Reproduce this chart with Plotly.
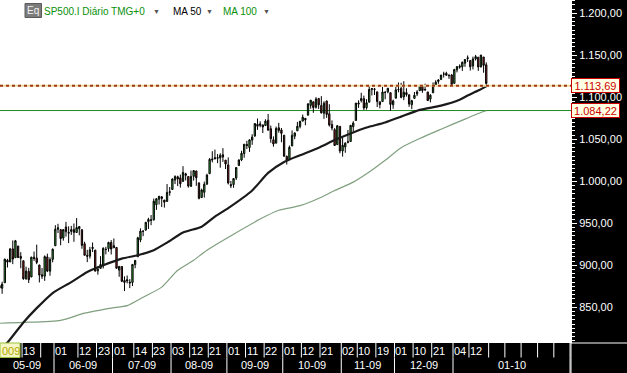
import plotly.graph_objects as go

# ---------------- data ----------------
dates = [
    "2009-04-30",
    "2009-05-01", "2009-05-04", "2009-05-05", "2009-05-06", "2009-05-07", "2009-05-08", "2009-05-11", "2009-05-12",
    "2009-05-13", "2009-05-14", "2009-05-15", "2009-05-18", "2009-05-19", "2009-05-20", "2009-05-21", "2009-05-22",
    "2009-05-26", "2009-05-27", "2009-05-28", "2009-05-29",
    "2009-06-01", "2009-06-02", "2009-06-03", "2009-06-04", "2009-06-05", "2009-06-08", "2009-06-09", "2009-06-10",
    "2009-06-11", "2009-06-12", "2009-06-15", "2009-06-16", "2009-06-17", "2009-06-18", "2009-06-19", "2009-06-22",
    "2009-06-23", "2009-06-24", "2009-06-25", "2009-06-26", "2009-06-29", "2009-06-30",
    "2009-07-01", "2009-07-02", "2009-07-06", "2009-07-07", "2009-07-08", "2009-07-09", "2009-07-10", "2009-07-13",
    "2009-07-14", "2009-07-15", "2009-07-16", "2009-07-17", "2009-07-20", "2009-07-21", "2009-07-22", "2009-07-23",
    "2009-07-24", "2009-07-27", "2009-07-28", "2009-07-29", "2009-07-30", "2009-07-31",
    "2009-08-03", "2009-08-04", "2009-08-05", "2009-08-06", "2009-08-07", "2009-08-10", "2009-08-11", "2009-08-12",
    "2009-08-13", "2009-08-14", "2009-08-17", "2009-08-18", "2009-08-19", "2009-08-20", "2009-08-21", "2009-08-24",
    "2009-08-25", "2009-08-26", "2009-08-27", "2009-08-28", "2009-08-31",
    "2009-09-01", "2009-09-02", "2009-09-03", "2009-09-04", "2009-09-08", "2009-09-09", "2009-09-10", "2009-09-11",
    "2009-09-14", "2009-09-15", "2009-09-16", "2009-09-17", "2009-09-18", "2009-09-21", "2009-09-22", "2009-09-23",
    "2009-09-24", "2009-09-25", "2009-09-28", "2009-09-29", "2009-09-30",
    "2009-10-01", "2009-10-02", "2009-10-05", "2009-10-06", "2009-10-07", "2009-10-08", "2009-10-09", "2009-10-12",
    "2009-10-13", "2009-10-14", "2009-10-15", "2009-10-16", "2009-10-19", "2009-10-20", "2009-10-21", "2009-10-22",
    "2009-10-23", "2009-10-26", "2009-10-27", "2009-10-28", "2009-10-29", "2009-10-30",
    "2009-11-02", "2009-11-03", "2009-11-04", "2009-11-05", "2009-11-06", "2009-11-09", "2009-11-10", "2009-11-11",
    "2009-11-12", "2009-11-13", "2009-11-16", "2009-11-17", "2009-11-18", "2009-11-19", "2009-11-20", "2009-11-23",
    "2009-11-24", "2009-11-25", "2009-11-27", "2009-11-30",
    "2009-12-01", "2009-12-02", "2009-12-03", "2009-12-04", "2009-12-07", "2009-12-08", "2009-12-09", "2009-12-10",
    "2009-12-11", "2009-12-14", "2009-12-15", "2009-12-16", "2009-12-17", "2009-12-18", "2009-12-21", "2009-12-22",
    "2009-12-23", "2009-12-24", "2009-12-28", "2009-12-29", "2009-12-30", "2009-12-31",
    "2010-01-04", "2010-01-05", "2010-01-06", "2010-01-07", "2010-01-08", "2010-01-11", "2010-01-12", "2010-01-13",
    "2010-01-14", "2010-01-15", "2010-01-19", "2010-01-20", "2010-01-21",
]

opens = [
    876.11,
    872.74, 879.21, 906.10, 903.95, 919.58, 909.03, 922.99, 910.52, 905.40, 884.24, 892.76, 886.07, 909.67, 908.62,
    900.42, 888.68, 887.00, 909.95, 892.96, 907.02,
    923.26, 942.87, 942.51, 932.49, 945.67, 938.12, 940.35, 942.73, 939.04, 943.44, 942.45, 925.60, 911.89, 910.86,
    919.96, 918.13, 893.46, 896.31, 899.45, 918.84, 919.86, 927.15,
    920.82, 921.24, 894.27, 898.60, 881.90, 881.28, 880.03, 879.57, 900.77, 910.15, 930.17, 940.56, 942.07, 951.97,
    953.40, 954.07, 972.16, 978.63, 981.48, 977.66, 976.01, 986.80,
    990.22, 1001.41, 1005.41, 1004.06, 999.83, 1008.89, 1005.77, 994.00, 1005.86, 1012.23, 998.18, 980.62, 986.88,
    996.41, 1009.06, 1026.59, 1026.63, 1027.35, 1027.81, 1031.62, 1025.21,
    1019.52, 996.07, 996.12, 1003.84, 1018.67, 1025.36, 1032.99, 1043.92, 1040.15, 1049.03, 1053.99, 1067.87,
    1066.60, 1067.14, 1066.35, 1072.69, 1062.56, 1049.48, 1045.38, 1063.69, 1061.02,
    1054.91, 1029.71, 1026.87, 1042.02, 1053.65, 1060.03, 1065.28, 1071.63, 1074.96, 1078.68, 1090.36, 1094.67,
    1088.22, 1098.64, 1090.36, 1080.96, 1095.62, 1080.36, 1067.54, 1061.51, 1043.69, 1065.41,
    1036.18, 1040.92, 1047.14, 1047.30, 1064.95, 1072.31, 1091.86, 1096.04, 1098.31, 1087.59, 1094.13, 1109.22,
    1109.44, 1106.44, 1094.66, 1094.86, 1105.83, 1106.49, 1105.47, 1091.07,
    1098.89, 1109.03, 1110.59, 1100.43, 1105.52, 1103.04, 1091.07, 1098.69, 1103.96, 1107.84, 1114.11, 1108.61,
    1106.36, 1097.86, 1105.31, 1114.51, 1118.84, 1121.08, 1127.53, 1128.55, 1125.53, 1126.60,
    1116.56, 1132.66, 1135.71, 1136.27, 1140.52, 1145.96, 1143.81, 1137.31, 1145.68, 1147.72, 1136.03, 1147.95,
    1138.68,
]

highs = [
    888.70,
    880.48, 907.85, 907.70, 920.28, 929.58, 930.17, 922.99, 915.57, 905.40, 898.36, 896.97, 910.00, 916.39, 924.60,
    900.42, 896.65, 911.76, 913.84, 909.45, 920.02,
    947.77, 949.38, 942.51, 942.47, 951.69, 946.33, 946.92, 949.77, 956.23, 946.30, 942.45, 928.00, 918.44, 921.93,
    927.09, 918.13, 898.69, 910.85, 921.42, 922.00, 927.99, 930.01,
    931.92, 921.24, 898.72, 898.60, 886.80, 887.86, 883.57, 901.05, 905.84, 933.95, 943.96, 941.89, 951.62, 956.53,
    959.83, 979.42, 979.79, 982.49, 982.35, 977.76, 996.68, 993.18,
    1003.61, 1007.12, 1006.64, 1008.00, 1018.00, 1010.12, 1005.77, 1012.78, 1013.14, 1012.60, 998.18, 991.20,
    999.61, 1008.92, 1027.59, 1035.82, 1037.75, 1032.47, 1033.33, 1039.47, 1025.21,
    1028.45, 1000.34, 1003.43, 1016.48, 1026.07, 1036.34, 1044.14, 1048.18, 1049.74, 1056.04, 1068.76, 1074.77,
    1071.52, 1067.28, 1073.81, 1080.15, 1066.29, 1053.47, 1065.13, 1069.62, 1063.40,
    1054.91, 1030.60, 1042.58, 1060.55, 1058.02, 1070.67, 1071.51, 1079.46, 1075.30, 1093.17, 1096.56, 1094.67,
    1100.17, 1098.64, 1101.36, 1095.21, 1095.83, 1091.75, 1072.48, 1063.26, 1066.83, 1065.41,
    1052.18, 1046.36, 1061.00, 1066.65, 1071.48, 1093.19, 1096.42, 1105.37, 1101.97, 1097.79, 1113.69, 1110.52,
    1111.10, 1106.44, 1094.66, 1112.38, 1107.56, 1111.18, 1105.47, 1097.24,
    1112.28, 1117.58, 1117.28, 1119.13, 1110.72, 1103.04, 1097.04, 1106.25, 1108.50, 1114.76, 1114.11, 1116.21,
    1106.36, 1103.74, 1117.68, 1120.27, 1121.58, 1126.48, 1130.38, 1130.38, 1126.42, 1127.64,
    1133.87, 1136.63, 1139.19, 1142.46, 1145.39, 1149.74, 1143.81, 1148.40, 1150.41, 1147.77, 1150.45, 1147.95,
    1141.58,
]

lows = [
    868.51,
    866.10, 879.21, 897.34, 903.95, 901.36, 909.03, 908.68, 896.46, 882.80, 882.52, 878.94, 886.07, 905.22, 901.37,
    879.61, 883.75, 881.46, 891.87, 887.60, 903.56,
    923.26, 938.46, 923.85, 929.32, 934.13, 926.44, 936.15, 927.97, 939.04, 935.66, 919.65, 911.60, 903.78, 907.94,
    915.80, 893.04, 888.86, 896.31, 896.27, 913.03, 916.18, 912.86,
    920.82, 896.42, 886.36, 879.93, 869.32, 878.45, 872.81, 875.32, 896.50, 910.15, 927.45, 934.65, 940.99, 943.22,
    947.75, 953.27, 965.95, 972.29, 969.35, 968.65, 976.01, 982.85,
    990.22, 996.68, 994.31, 992.49, 999.83, 1000.99, 992.40, 993.36, 1000.82, 994.60, 978.51, 980.62, 980.62,
    996.39, 1009.06, 1022.48, 1026.21, 1021.57, 1016.20, 1023.13, 1014.62,
    996.28, 991.97, 992.25, 1001.65, 1018.67, 1023.97, 1028.04, 1038.40, 1035.00, 1043.42, 1052.87, 1061.20,
    1064.27, 1057.46, 1066.35, 1060.39, 1045.85, 1041.17, 1045.38, 1057.83, 1046.47,
    1029.45, 1019.95, 1025.92, 1042.02, 1050.10, 1060.03, 1063.00, 1071.63, 1066.71, 1078.68, 1086.41, 1081.53,
    1086.48, 1086.16, 1080.77, 1074.31, 1075.49, 1065.23, 1060.62, 1042.19, 1043.69, 1033.38,
    1029.38, 1033.94, 1045.15, 1047.30, 1059.32, 1072.31, 1087.40, 1093.81, 1084.90, 1085.33, 1094.13, 1102.19,
    1102.70, 1088.40, 1086.81, 1094.86, 1097.63, 1104.75, 1083.74, 1086.25,
    1098.89, 1105.90, 1098.74, 1096.52, 1100.83, 1088.61, 1085.89, 1098.69, 1101.34, 1107.84, 1105.35, 1107.96,
    1095.88, 1093.88, 1105.31, 1114.51, 1116.00, 1121.08, 1123.51, 1126.08, 1121.94, 1114.81,
    1116.56, 1129.66, 1133.95, 1131.32, 1136.22, 1142.02, 1131.77, 1133.18, 1143.80, 1131.39, 1135.77, 1129.25,
    1114.84,
]

closes = [
    872.81,
    877.52, 907.24, 903.80, 919.53, 907.39, 929.23, 909.24, 908.35, 883.92, 893.07, 882.88, 909.71, 908.13, 903.47,
    888.33, 887.00, 910.33, 893.06, 906.83, 919.14,
    942.87, 944.74, 931.76, 942.46, 940.09, 939.14, 942.43, 939.15, 944.89, 946.21, 923.72, 911.97, 910.71, 918.37,
    921.23, 893.04, 895.10, 900.94, 920.26, 918.90, 927.23, 919.32,
    923.33, 896.42, 898.72, 881.03, 879.56, 882.68, 879.13, 901.05, 905.84, 932.68, 940.74, 940.38, 951.13, 954.58,
    954.07, 976.29, 979.26, 982.18, 979.62, 975.15, 986.75, 987.48,
    1002.63, 1005.65, 1002.72, 997.08, 1010.48, 1007.10, 994.35, 1005.81, 1012.73, 1004.09, 979.73, 989.67, 996.46,
    1007.37, 1026.13, 1025.57, 1028.00, 1028.12, 1030.98, 1028.93, 1020.62,
    998.04, 994.75, 1003.24, 1016.40, 1025.39, 1033.37, 1044.14, 1042.73, 1049.34, 1052.63, 1068.76, 1065.49,
    1068.30, 1064.66, 1071.66, 1060.87, 1050.78, 1044.38, 1062.98, 1060.61, 1057.08,
    1029.85, 1025.21, 1040.46, 1054.72, 1057.58, 1065.48, 1071.49, 1076.19, 1073.19, 1092.02, 1096.56, 1087.68,
    1097.91, 1091.06, 1081.40, 1092.91, 1079.60, 1066.95, 1063.41, 1042.63, 1066.11, 1036.19,
    1042.88, 1045.41, 1046.50, 1066.63, 1069.30, 1093.08, 1093.01, 1098.51, 1087.24, 1093.48, 1109.30, 1110.32,
    1109.80, 1094.90, 1091.38, 1106.24, 1105.65, 1110.63, 1091.49, 1095.63,
    1108.86, 1109.24, 1099.92, 1105.98, 1103.25, 1091.94, 1095.95, 1102.35, 1106.41, 1114.11, 1107.93, 1109.18,
    1096.08, 1102.47, 1114.05, 1118.02, 1120.59, 1126.48, 1127.78, 1126.20, 1126.42, 1115.10,
    1132.99, 1136.52, 1137.14, 1141.69, 1144.98, 1146.98, 1136.22, 1145.68, 1148.46, 1136.03, 1150.23, 1138.04,
    1116.48,
]

# moving averages at sample dates
ma50_dates = ["2009-04-30", "2009-05-05", "2009-05-13", "2009-05-20", "2009-05-29", "2009-06-09", "2009-06-17",
              "2009-06-25", "2009-07-07", "2009-07-15", "2009-07-23", "2009-07-30", "2009-08-07", "2009-08-18",
              "2009-08-25", "2009-09-01", "2009-09-15", "2009-09-23", "2009-10-01", "2009-10-09", "2009-10-20",
              "2009-10-28", "2009-11-05", "2009-11-13", "2009-11-24", "2009-12-03", "2009-12-14", "2009-12-24",
              "2010-01-06", "2010-01-11", "2010-01-15", "2010-01-21"]
ma50_vals = [799, 808, 832, 849, 867, 880, 892, 900, 908, 912, 918, 927, 939, 946, 958, 968, 989, 1010, 1023,
             1031, 1040, 1049, 1057, 1064, 1070, 1077, 1085, 1090, 1097, 1102, 1108, 1113]

ma100_dates = ["2009-04-30", "2009-05-13", "2009-06-03", "2009-06-16", "2009-06-30", "2009-07-09", "2009-07-17",
               "2009-07-28", "2009-08-05", "2009-08-13", "2009-08-20", "2009-09-18", "2009-09-29", "2009-10-09",
               "2009-10-21", "2009-10-28", "2009-11-06", "2009-11-16", "2009-11-24", "2009-12-03", "2009-12-14",
               "2009-12-24", "2010-01-08", "2010-01-20", "2010-01-21"]
ma100_vals = [831, 832, 834.5, 843, 849, 852, 862, 874, 894, 906, 918, 955, 965.5, 971, 981, 989, 999, 1011,
              1025, 1040, 1051, 1062, 1074, 1083, 1084]

resistance_level = 1113.69
support_level = 1084.22

legend_texts = ["SP500.I Diário TMG+0", "MA 50", "MA 100"]

day_label_dates = ["2009-05-13", "2009-06-01", "2009-06-12", "2009-06-23", "2009-07-01", "2009-07-14",
                   "2009-07-23", "2009-08-03", "2009-08-12", "2009-08-21", "2009-09-01", "2009-09-11",
                   "2009-09-22", "2009-10-01", "2009-10-12", "2009-10-21", "2009-11-02", "2009-11-10",
                   "2009-11-19", "2009-12-01", "2009-12-10", "2009-12-21", "2010-01-04", "2010-01-12"]
extra_box_dates = ["2009-05-22"]
year_label = "009"

month_start_dates = ["2009-05-01", "2009-06-01", "2009-07-01", "2009-08-03", "2009-09-01", "2009-10-01",
                     "2009-11-02", "2009-12-01", "2010-01-04"]
month_labels = ["05-09", "06-09", "07-09", "08-09", "09-09", "10-09", "11-09", "12-09", "01-10"]

# ---------------- layout constants ----------------
W, H = 627, 373
PLOT_W, PLOT_H = 571, 343
X_RANGE = [0.2, 214.86]
Y_RANGE = [807.5, 1215.8]
FUTURE_EDGES = [183.9, 190.0, 196.1, 202.3, 208.4, 214.5]
FONT = "Arial, 'Liberation Sans', sans-serif"

pos = {d: i for i, d in enumerate(dates)}
xs = list(range(len(dates)))


def pxp(p):
    return p / PLOT_W


def pyp(p):
    return (PLOT_H - p) / PLOT_H


def fmt(v):
    return f"{v:,.2f}".replace(",", "X").replace(".", ",").replace("X", ".")


fig = go.Figure()

fig.add_trace(go.Scatter(
    x=[pos[d] for d in ma100_dates], y=ma100_vals, mode="lines",
    line=dict(color="#7f9f7f", width=1.2, shape="spline", smoothing=0.6),
    hoverinfo="skip", showlegend=False))
fig.add_trace(go.Scatter(
    x=[pos[d] for d in ma50_dates], y=ma50_vals, mode="lines",
    line=dict(color="#1a1a1a", width=2.2, shape="spline", smoothing=0.6),
    hoverinfo="skip", showlegend=False))
fig.add_trace(go.Candlestick(
    x=xs, open=opens, high=highs, low=lows, close=closes,
    increasing=dict(line=dict(color="#000000", width=1), fillcolor="#3fc23f"),
    decreasing=dict(line=dict(color="#000000", width=1), fillcolor="#b32626"),
    whiskerwidth=0, showlegend=False, hoverinfo="skip"))

shapes = []
annotations = []

# horizontal levels
shapes.append(dict(type="line", xref="paper", yref="y", x0=0, x1=1, y0=support_level, y1=support_level,
                   line=dict(color="#1f8a1f", width=1), layer="below"))
shapes.append(dict(type="line", xref="paper", yref="y", x0=0, x1=1, y0=resistance_level, y1=resistance_level,
                   line=dict(color="#f2d9a0", width=2), layer="above"))
shapes.append(dict(type="line", xref="paper", yref="y", x0=0, x1=1, y0=resistance_level, y1=resistance_level,
                   line=dict(color="#9c3a12", width=2, dash="dot"), layer="above"))

for lvl in [resistance_level, support_level]:
    annotations.append(dict(xref="paper", yref="y", x=1, y=lvl, xanchor="left", yanchor="middle",
                            text=fmt(lvl), showarrow=False, width=47, height=13, align="center",
                            font=dict(color="#cc0000", size=11, family=FONT),
                            bgcolor="#ffffe4", bordercolor="#cc0000", borderwidth=1, borderpad=0))

# bottom axis: row 1 (days)
row1_top, row1_bot = pyp(343), pyp(357.5)
row2_top, row2_bot = pyp(357.5), pyp(373)
for d in day_label_dates + extra_box_dates:
    xe = pos[d] - 0.5
    shapes.append(dict(type="line", xref="x", yref="paper", x0=xe, x1=xe, y0=row1_top, y1=row1_bot,
                       line=dict(color="white", width=1)))
for xe in FUTURE_EDGES:
    shapes.append(dict(type="line", xref="x", yref="paper", x0=xe, x1=xe, y0=row1_top, y1=row1_bot,
                       line=dict(color="white", width=1)))
for d in day_label_dates:
    annotations.append(dict(xref="x", yref="paper", x=pos[d] - 0.5, y=pyp(350.5), xanchor="left",
                            yanchor="middle", xshift=-1, text=d[8:10], showarrow=False,
                            font=dict(color="white", size=11, family=FONT)))
# year box
shapes.append(dict(type="rect", xref="paper", yref="paper", x0=0, x1=pxp(20), y0=row1_top, y1=row1_bot,
                   fillcolor="#f4f6c6", line=dict(color="#9cc43c", width=1)))
annotations.append(dict(xref="paper", yref="paper", x=pxp(10.5), y=pyp(350.5), xanchor="center",
                        yanchor="middle", text=year_label, showarrow=False,
                        font=dict(color="#b4aa00", size=11, family=FONT)))

# bottom axis: row 2 (months)
edges = [pos[d] - 0.5 for d in month_start_dates] + [FUTURE_EDGES[-1]]
for xe in edges[1:]:
    shapes.append(dict(type="line", xref="x", yref="paper", x0=xe, x1=xe, y0=row2_top, y1=row2_bot,
                       line=dict(color="white", width=1)))
for i, lab in enumerate(month_labels):
    annotations.append(dict(xref="x", yref="paper", x=(edges[i] + edges[i + 1]) / 2, y=pyp(365),
                            xanchor="center", yanchor="middle", text=lab, showarrow=False,
                            font=dict(color="white", size=11, family=FONT)))

# right column frame
shapes.append(dict(type="line", xref="paper", yref="paper", x0=1, x1=1, y0=0, y1=pyp(H),
                   line=dict(color="white", width=1)))
shapes.append(dict(type="line", xref="paper", yref="paper", x0=1, x1=pxp(W), y0=0, y1=0,
                   line=dict(color="white", width=1)))

# header legend
shapes.append(dict(type="rect", xref="paper", yref="paper", x0=pxp(25), x1=pxp(41.5), y0=pyp(3.5), y1=pyp(17.5),
                   fillcolor="#7c7c7c", line=dict(color="#5a5a5a", width=1)))
annotations.append(dict(xref="paper", yref="paper", x=pxp(33.3), y=pyp(10.8), xanchor="center",
                        yanchor="middle", text="Eq", showarrow=False,
                        font=dict(color="#f4f4f4", size=10, family=FONT)))
leg_x = [42, 171, 221]
leg_col = ["#0a8f0a", "#000000", "#0a8f0a"]
for t, x, c in zip(legend_texts, leg_x, leg_col):
    annotations.append(dict(xref="paper", yref="paper", x=pxp(x), y=pyp(11.5), xanchor="left",
                            yanchor="middle", text=t, showarrow=False,
                            font=dict(color=c, size=10, family=FONT)))
for x in [156.5, 209.5, 266]:
    annotations.append(dict(xref="paper", yref="paper", x=pxp(x), y=pyp(11.5), xanchor="center",
                            yanchor="middle", text="▼", showarrow=False,
                            font=dict(color="#555555", size=7, family=FONT)))

fig.update_layout(
    width=W, height=H,
    margin=dict(l=0, r=W - PLOT_W, t=0, b=H - PLOT_H, pad=0),
    paper_bgcolor="black", plot_bgcolor="white",
    separators=",.", showlegend=False,
    font=dict(family=FONT),
    xaxis=dict(range=X_RANGE, showgrid=False, zeroline=False, showticklabels=False, ticks="",
               showline=False, rangeslider=dict(visible=False), fixedrange=True),
    yaxis=dict(side="right", range=Y_RANGE, dtick=50, tick0=0, tickformat=",.2f",
               showgrid=False, zeroline=False, showline=True, linecolor="white", linewidth=1,
               ticks="outside", ticklen=5, tickwidth=1, tickcolor="white",
               tickfont=dict(color="white", size=11, family=FONT),
               minor=dict(dtick=5, ticks="outside", ticklen=3, tickwidth=1, tickcolor="white"),
               fixedrange=True),
    shapes=shapes, annotations=annotations,
)

fig.write_html("out.html", config={"displayModeBar": False})
